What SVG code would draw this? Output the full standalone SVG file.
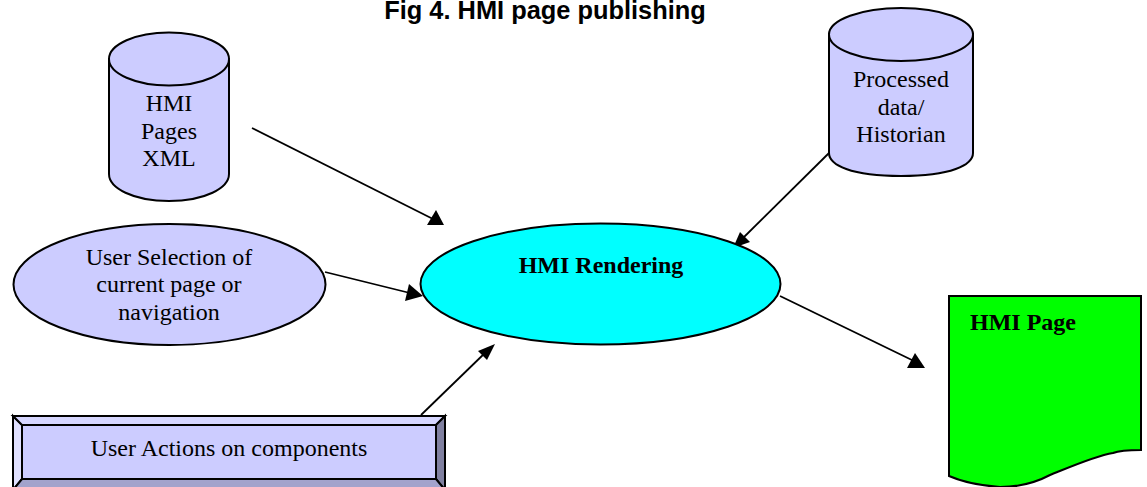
<svg xmlns="http://www.w3.org/2000/svg" width="1147" height="487" viewBox="0 0 1147 487">
<style>
.o{stroke:#000;stroke-width:2}
.f{fill:#ccccff}
.t{font-family:"Liberation Serif","Times New Roman",serif;font-size:24px;fill:#000;text-anchor:middle}
.b{font-weight:bold}
.c{stroke:#000;stroke-width:1.8;fill:none}
.h{fill:#000;stroke:none}
</style>
<rect width="1147" height="487" fill="#fff"/>
<text x="545" y="19" font-family="'Liberation Sans',Arial,sans-serif" font-weight="bold" font-size="25.4" text-anchor="middle">Fig 4. HMI page publishing</text>
<g id="connectors">
<path class="c" d="M252 128L437 221"/>
<path class="h" d="M444 225L427 225L436 210Z"/>
<path class="c" d="M829 153L740 241"/>
<path class="h" d="M733 248L740 232L750 242Z"/>
<path class="c" d="M325 272L414 294"/>
<path class="h" d="M423 296L405 301L409 284Z"/>
<path class="c" d="M421 415L487 351"/>
<path class="h" d="M495 344L487 360L478 351Z"/>
<path class="c" d="M780 296L916 362"/>
<path class="h" d="M925 368L907 368L915 353Z"/>
</g>
<g id="hmi-pages-xml">
<path class="f o" d="M109 59V174C109 188 133 201 169 201C205 201 229 188 229 174V59Z"/>
<ellipse class="f o" cx="169" cy="59" rx="60" ry="26.500"/>
<text class="t" x="169" y="111">HMI</text>
<text class="t" x="169" y="139">Pages</text>
<text class="t" x="169" y="166">XML</text>
</g>
<g id="processed-data">
<path class="f o" d="M829 34V153C829 165 851 176 901 176C951 176 973 165 973 153V34Z"/>
<ellipse class="f o" cx="901" cy="34.500" rx="72" ry="26.500"/>
<text class="t" x="901" y="87">Processed</text>
<text class="t" x="901" y="115">data/</text>
<text class="t" x="901" y="142">Historian</text>
</g>
<g id="user-selection">
<ellipse class="f o" cx="169.500" cy="284.500" rx="156" ry="60.500"/>
<text class="t" x="169" y="265">User Selection of</text>
<text class="t" x="169" y="292">current page or</text>
<text class="t" x="169" y="320">navigation</text>
</g>
<g id="hmi-rendering">
<ellipse class="o" fill="#00ffff" cx="600.500" cy="284" rx="180" ry="60.500"/>
<text class="t b" x="601" y="273">HMI Rendering</text>
</g>
<g id="user-actions">
<rect class="f o" x="13" y="416" width="432" height="74"/>
<path class="o" fill="#e0e0ff" d="M13 416L22 425V479L13 490Z"/>
<path class="o" fill="#d6d6ff" d="M13 416H445L436 425H22Z"/>
<path class="o" fill="#8080a0" d="M445 416V490L436 479V425Z"/>
<path class="o" fill="#a3a3cc" d="M13 490L22 479H436L445 490Z"/>
<text class="t" x="229" y="456">User Actions on components</text>
</g>
<g id="hmi-page">
<path class="o" fill="#00ff00" d="M949 296H1141V450C1125 450 1118 451 1113 453C1095 456 1070 467 1050 475C1035 483 1020 487 1000 487C985 486 965 483 949 476Z"/>
<text class="t b" x="1023" y="330">HMI Page</text>
</g>
</svg>
